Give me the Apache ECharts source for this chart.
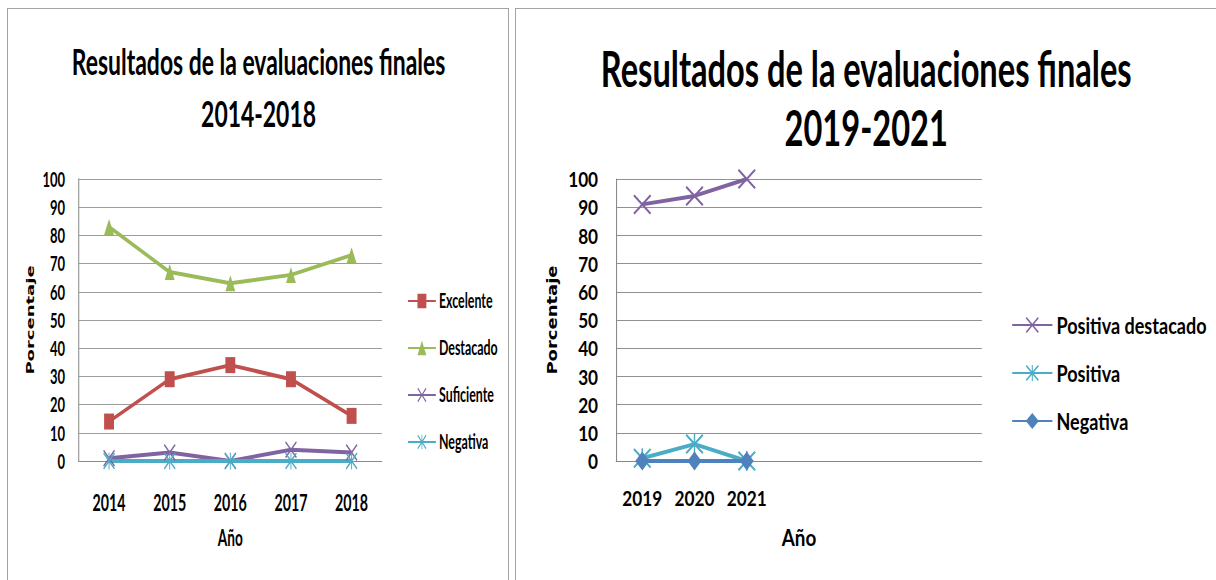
<!DOCTYPE html>
<html>
<head>
<meta charset="utf-8">
<script src="https://cdn.jsdelivr.net/npm/echarts@6/dist/echarts.min.js"></script>
<style>
  html, body { margin: 0; padding: 0; background: #fff; }
  body { position: relative; width: 1216px; height: 580px; overflow: hidden; }
  .frame { position: absolute; top: 8px; height: 600px; border: 1px solid #a3a3a3; box-sizing: border-box; }
  /* the source picture is squeezed sideways, so each panel is drawn wider and scaled back */
  .panel { position: absolute; top: 0; height: 580px; transform-origin: 0 0; }
</style>
</head>
<body>
<div class="frame" style="left:7px;width:502px;"></div>
<div class="frame" style="left:515px;width:720px;"></div>
<div id="leftChart" class="panel" style="left:0;width:826px;transform:scaleX(0.62);"></div>
<div id="rightChart" class="panel" style="left:512px;width:859px;transform:scaleX(0.82);"></div>
<script>
var LEFT_TITLE = ['Resultados de la evaluaciones finales', '2014-2018'];
var LEFT_YEARS = ['2014', '2015', '2016', '2017', '2018'];
var EXCELENTE = [14, 29, 34, 29, 16];
var DESTACADO = [83, 67, 63, 66, 73];
var SUFICIENTE = [1, 3, 0, 4, 3];
var NEGATIVA_A = [0, 0, 0, 0, 0];

var RIGHT_TITLE = ['Resultados de la evaluaciones finales', '2019-2021'];
var RIGHT_YEARS = ['2019', '2020', '2021', '', '', '', ''];
var POSITIVA_DESTACADO = [91, 94, 100];
var POSITIVA = [1, 6, 0];
var NEGATIVA_B = [0, 0, 0];

var X_MARK = 'path://M0,1.5L1.5,0L10,8.5L18.5,0L20,1.5L11.5,10L20,18.5L18.5,20L10,11.5L1.5,20L0,18.5L8.5,10Z';
var STAR_MARK = X_MARK + 'M9.2,0L10.8,0L10.8,20L9.2,20Z';
var GRID_GREY = '#868686';

function lineSeries(name, data, color, symbol, size) {
    return {
        name: name,
        type: 'line',
        data: data,
        symbol: symbol,
        symbolSize: size,
        lineStyle: { width: 4, color: color },
        itemStyle: { color: color },
        emphasis: { disabled: true }
    };
}

function titleText(text, x, y, size, sx) {
    return {
        type: 'text', x: x, y: y, scaleX: sx,
        style: {
            text: text, fill: '#000', fontFamily: 'Lato', fontWeight: 'bold', fontSize: size,
            align: 'center', verticalAlign: 'middle'
        }
    };
}

function axes(cats, o) {
    return {
        xAxis: {
            type: 'category',
            data: cats,
            boundaryGap: true,
            axisLine: { lineStyle: { color: GRID_GREY, width: 1 } },
            axisTick: { show: false },
            axisLabel: { color: '#000', fontFamily: 'Lato', fontWeight: 'bold', fontSize: o.xFont, margin: o.xMargin, interval: 0 },
            name: 'Año',
            nameLocation: 'middle',
            nameGap: o.nameGapX,
            nameTextStyle: { color: '#000', fontFamily: 'Lato', fontWeight: 'bold', fontSize: o.nameFontX }
        },
        yAxis: {
            type: 'value',
            min: 0, max: 100, interval: 10,
            axisLine: { show: true, lineStyle: { color: GRID_GREY, width: o.vLine } },
            axisTick: { show: false },
            splitLine: { lineStyle: { color: GRID_GREY, width: 1 } },
            axisLabel: { color: '#000', fontFamily: 'Lato', fontWeight: 'bold', fontSize: o.yFont, margin: o.yMargin },
            name: 'Porcentaje',
            nameLocation: 'middle',
            nameRotate: 90,
            nameGap: o.nameGapY,
            nameTextStyle: { color: '#000', fontFamily: 'DejaVu Sans', fontWeight: 'bold', fontSize: 18 }
        }
    };
}

var leftAxes = axes(LEFT_YEARS, { xFont: 23, xMargin: 29, nameGapX: 66, nameFontX: 22, vLine: 1.6, yFont: 21, yMargin: 22, nameGapY: 64 });
var leftOptions = {
    animation: false,
    graphic: [
        titleText(LEFT_TITLE[0], 417, 61, 37, 1),
        titleText(LEFT_TITLE[1], 417, 113, 37, 1)
    ],
    grid: { left: 127, top: 179, width: 489, height: 282, containLabel: false },
    legend: {
        orient: 'vertical', left: 652, top: 286,
        itemWidth: 45, itemHeight: 18, itemGap: 27,
        textStyle: { color: '#000', fontFamily: 'Lato', fontWeight: 'bold', fontSize: 20, lineHeight: 20 }
    },
    xAxis: leftAxes.xAxis,
    yAxis: leftAxes.yAxis,
    series: [
        lineSeries('Excelente', EXCELENTE, '#C0504D', 'rect', 16),
        lineSeries('Destacado', DESTACADO, '#9BBB59', 'triangle', 16),
        lineSeries('Suficiente', SUFICIENTE, '#8064A2', X_MARK, [19, 17]),
        lineSeries('Negativa', NEGATIVA_A, '#4BACC6', STAR_MARK, [19, 17])
    ]
};

var rightAxes = axes(RIGHT_YEARS, { xFont: 21, xMargin: 26, nameGapX: 64, nameFontX: 23, vLine: 1.25, yFont: 21, yMargin: 22, nameGapY: 68 });
var rightOptions = {
    animation: false,
    graphic: [
        titleText(RIGHT_TITLE[0], 432, 67, 50, 0.795),
        titleText(RIGHT_TITLE[1], 432, 126, 50, 0.795)
    ],
    grid: { left: 127, top: 179, width: 446, height: 282, containLabel: false },
    legend: {
        orient: 'vertical', left: 604, top: 309,
        itemWidth: 49, itemHeight: 20, itemGap: 26,
        textStyle: { color: '#000', fontFamily: 'Lato', fontWeight: 'bold', fontSize: 22, lineHeight: 22 }
    },
    xAxis: rightAxes.xAxis,
    yAxis: rightAxes.yAxis,
    series: [
        lineSeries('Positiva destacado', POSITIVA_DESTACADO, '#8064A2', X_MARK, [22, 20]),
        lineSeries('Positiva', POSITIVA, '#4BACC6', STAR_MARK, [22, 20]),
        lineSeries('Negativa', NEGATIVA_B, '#4F81BD', 'diamond', [17, 19])
    ]
};

var leftChart = echarts.init(document.getElementById('leftChart'), null, { renderer: 'svg' });
leftChart.setOption(leftOptions);
var rightChart = echarts.init(document.getElementById('rightChart'), null, { renderer: 'svg' });
rightChart.setOption(rightOptions);
</script>
</body>
</html>
